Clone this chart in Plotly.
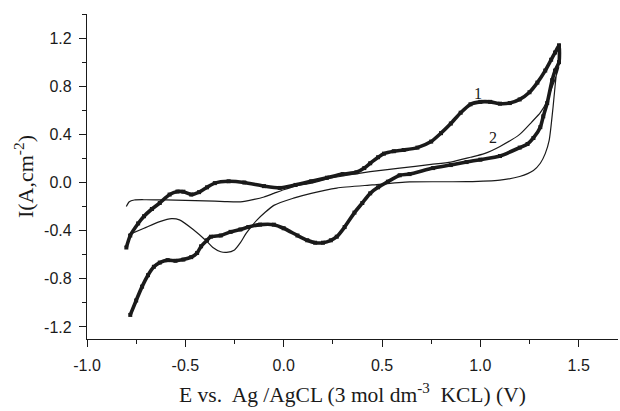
import plotly.graph_objects as go

# Curve 1 (thick, square markers): forward branch then return branch
c1_x = [-0.80, -0.78, -0.74, -0.71, -0.67, -0.63, -0.58, -0.54, -0.51, -0.47, -0.43, -0.39,
        -0.35, -0.28, -0.20, -0.10, -0.02, 0.06, 0.14, 0.22, 0.30, 0.37, 0.41, 0.44, 0.48,
        0.51, 0.56, 0.61, 0.68, 0.75, 0.80, 0.85, 0.90, 0.95, 1.00, 1.05, 1.10, 1.15, 1.20,
        1.25, 1.29, 1.33, 1.36, 1.38, 1.40,
        1.40, 1.38, 1.365, 1.34, 1.32, 1.305, 1.27, 1.24, 1.20, 1.10, 1.00, 0.93, 0.85, 0.76,
        0.64, 0.59, 0.53, 0.48, 0.44, 0.40, 0.36, 0.31, 0.27, 0.24, 0.20, 0.16, 0.12, 0.07,
        0.00, -0.05, -0.12, -0.18, -0.22, -0.27, -0.32, -0.37, -0.39, -0.42, -0.44, -0.47,
        -0.51, -0.55, -0.59, -0.63, -0.66, -0.69, -0.72, -0.75, -0.78, -0.80]
c1_y = [-0.54, -0.44, -0.34, -0.28, -0.22, -0.17, -0.10, -0.075, -0.076, -0.10, -0.08, -0.04,
        -0.005, 0.01, 0.0, -0.03, -0.045, -0.02, 0.01, 0.04, 0.07, 0.085, 0.12, 0.16, 0.21,
        0.24, 0.26, 0.27, 0.29, 0.34, 0.41, 0.49, 0.58, 0.65, 0.67, 0.67, 0.655, 0.66, 0.69,
        0.75, 0.83, 0.93, 1.02, 1.08, 1.14,
        1.00, 0.93, 0.85, 0.66, 0.55, 0.46, 0.37, 0.32, 0.29, 0.22, 0.19, 0.17, 0.145, 0.12,
        0.07, 0.06, 0.007, -0.04, -0.09, -0.17, -0.25, -0.37, -0.45, -0.48, -0.50, -0.50,
        -0.48, -0.44, -0.38, -0.35, -0.35, -0.37, -0.39, -0.41, -0.44, -0.45, -0.48, -0.53,
        -0.585, -0.62, -0.64, -0.65, -0.645, -0.665, -0.70, -0.77, -0.865, -0.98, -1.10]

# Curve 2 (thin line): forward branch then return branch
c2_x = [-0.80, -0.785, -0.76, -0.70, -0.60, -0.50, -0.40, -0.30, -0.22, -0.15, -0.10, -0.05,
        0.00, 0.06, 0.14, 0.25, 0.34, 0.44, 0.59, 0.75, 0.85, 0.95, 1.02, 1.10, 1.20, 1.26,
        1.305, 1.34, 1.36, 1.38, 1.40,
        1.39, 1.38, 1.37, 1.35, 1.33, 1.305, 1.27, 1.20, 1.10, 0.93, 0.64, 0.45, 0.27, 0.14,
        0.05, -0.05, -0.135, -0.19, -0.22, -0.25, -0.29, -0.32, -0.36, -0.39, -0.46, -0.53,
        -0.57, -0.63, -0.71, -0.79]
c2_y = [-0.20, -0.16, -0.145, -0.143, -0.145, -0.148, -0.152, -0.158, -0.16, -0.14, -0.12, -0.09,
        -0.06, -0.03, -0.005, 0.04, 0.065, 0.09, 0.12, 0.15, 0.17, 0.21, 0.24, 0.30, 0.40, 0.50,
        0.58, 0.68, 0.77, 0.86, 0.96,
        0.93, 0.80, 0.63, 0.35, 0.24, 0.16, 0.10, 0.05, 0.02, 0.007, 0.005, -0.02, -0.046, -0.09,
        -0.13, -0.19, -0.31, -0.42, -0.50, -0.56, -0.58, -0.575, -0.54, -0.49, -0.39, -0.31,
        -0.30, -0.325, -0.38, -0.435]

x_tickvals = [-1.0, -0.5, 0.0, 0.5, 1.0, 1.5]
x_ticktext = ["-1.0", "-0.5", "0.0", "0.5", "1.0", "1.5"]
y_tickvals = [-1.2, -0.8, -0.4, 0.0, 0.4, 0.8, 1.2]
y_ticktext = ["-1.2", "-0.8", "-0.4", "0.0", "0.4", "0.8", "1.2"]

curve_labels = ["1", "2"]
label_x = [0.99, 1.065]
label_y = [0.74, 0.37]

INK = "#1a1a1a"

fig = go.Figure()
fig.add_trace(go.Scatter(
    x=c1_x, y=c1_y, mode="lines+markers",
    line=dict(color=INK, width=3.6, shape="spline", smoothing=0.6),
    marker=dict(symbol="square", size=4, color=INK),
    showlegend=False, hoverinfo="skip"))
fig.add_trace(go.Scatter(
    x=c2_x, y=c2_y, mode="lines",
    line=dict(color=INK, width=1.2, shape="spline", smoothing=0.6),
    showlegend=False, hoverinfo="skip"))

for t, lx, ly in zip(curve_labels, label_x, label_y):
    fig.add_annotation(x=lx, y=ly, text=t, showarrow=False,
                       font=dict(family="Liberation Serif", size=16, color=INK))

axis_font = dict(family="Liberation Sans, Arial", size=16, color=INK)
xtitle_font = dict(family="Liberation Serif, Times New Roman", size=21.5, color=INK)
ytitle_font = dict(family="Liberation Serif, Times New Roman", size=22, color=INK)

fig.update_xaxes(
    range=[-1.0, 1.7], showgrid=False, zeroline=False, automargin=False,
    showline=True, linecolor=INK, linewidth=1.2,
    ticks="outside", ticklen=7, tickwidth=1.2, tickcolor=INK,
    tickvals=x_tickvals, ticktext=x_ticktext, tickfont=axis_font,
    ticklabelstandoff=5,
    minor=dict(ticks="outside", ticklen=4, tickwidth=1.2, tickcolor=INK,
               dtick=0.25, tick0=0),
    title=dict(text="E vs.  Ag /AgCL (3 mol dm<sup>-3</sup>  KCL) (V)", font=xtitle_font,
               standoff=13))
fig.update_yaxes(
    range=[-1.3, 1.4], showgrid=False, zeroline=False, automargin=False,
    showline=True, linecolor=INK, linewidth=1.2,
    ticks="outside", ticklen=7, tickwidth=1.2, tickcolor=INK,
    tickvals=y_tickvals, ticktext=y_ticktext, tickfont=axis_font,
    ticklabelstandoff=4,
    minor=dict(ticks="outside", ticklen=4, tickwidth=1.2, tickcolor=INK,
               dtick=0.2, tick0=0),
    title=dict(text="I(A,cm<sup>-2</sup>)", font=ytitle_font, standoff=4))

fig.update_layout(
    width=620, height=411,
    margin=dict(l=87, r=2, t=14, b=72),
    paper_bgcolor="white", plot_bgcolor="white",
)

fig.write_html("out.html", config={"displayModeBar": False},
               post_script="document.body.style.margin='0';document.body.style.overflow='hidden';")
